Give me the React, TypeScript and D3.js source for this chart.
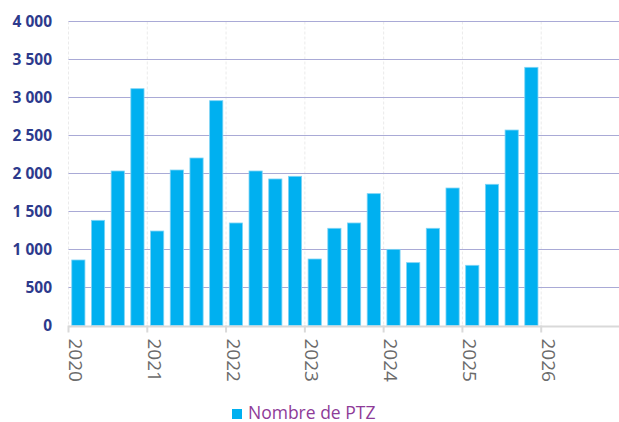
import React, { useEffect } from 'react';
import * as d3 from 'd3';

const years = ['2020', '2021', '2022', '2023', '2024', '2025', '2026'];
const quarters = ['T1', 'T2', 'T3', 'T4'];
const ptz = [
  862, 1384, 2033, 3116,
  1243, 2046, 2204, 2958,
  1349, 2033, 1928, 1963,
  875, 1279, 1349, 1735,
  1002, 827, 1279, 1809,
  792, 1858, 2572, 3397,
];
const yTicks = [0, 500, 1000, 1500, 2000, 2500, 3000, 3500, 4000];
const seriesName = 'Nombre de PTZ';

const W = 619;
const H = 422;
const margin = { left: 68.5, top: 21.5, right: -1, bottom: 96.5 };

const fmt = (v: number) => d3.format(',')(v).replace(/,/g, ' ');

const App = () => {
  useEffect(() => {
    document.body.style.margin = '0';
  }, []);

  const slots = years.flatMap((y) => quarters.map((q) => `${y}-${q}`));

  const x = d3.scaleBand<string>()
    .domain(slots)
    .range([margin.left, W - margin.right])
    .paddingInner(0.33)
    .paddingOuter(0.165);

  const step = x.step();
  const x0 = margin.left;
  const yearX = (i: number) => x0 + i * 4 * step;

  const y = d3.scaleLinear()
    .domain([0, 4000])
    .range([H - margin.bottom, margin.top]);

  return (
    <svg width={W} height={H} style={{ display: 'block' }} fontFamily="'Open Sans', sans-serif">
      <rect width={W} height={H} fill="#ffffff" />
      {years.map((yr, i) => (
        <line key={'vg' + yr} x1={yearX(i)} x2={yearX(i)} y1={margin.top} y2={y(0)}
          stroke="#ebebeb" strokeWidth={1} strokeDasharray="3,2" />
      ))}
      {yTicks.map((t) => (
        <g key={t}>
          {t > 0 && (
            <line x1={margin.left} x2={W} y1={y(t)} y2={y(t)} stroke="#a9aad6" strokeWidth={1.2} />
          )}
          <text x={52} y={y(t)} dy="0.36em" textAnchor="end" fontSize={15.5} fontWeight={700} fill="#2d3a8c">
            {fmt(t)}
          </text>
        </g>
      ))}
      {ptz.map((v, i) => (
        <rect key={i} x={x(slots[i])} y={y(v)} width={x.bandwidth()} height={y(0) - y(v)}
          fill="#00b0f0" stroke="#7fd4f5" strokeWidth={0.8} />
      ))}
      <line x1={margin.left} x2={W} y1={y(0) + 1} y2={y(0) + 1} stroke="#d9d9d9" strokeWidth={2} />
      {years.map((yr, i) => (
        <g key={'xt' + yr} transform={`translate(${yearX(i)},0)`}>
          <line y1={y(0)} y2={y(0) + 7} stroke="#d9d9d9" strokeWidth={2} />
          <text transform={`translate(0.5,${y(0) + 13}) rotate(90)`} fontSize={19} fill="#6b6b6b">
            {yr}
          </text>
        </g>
      ))}
      <rect x={232} y={409} width={10} height={10} fill="#00b0f0" />
      <text x={248} y={418.5} fontSize={17.5} fill="#8e3b98">{seriesName}</text>
    </svg>
  );
};

export default App;
